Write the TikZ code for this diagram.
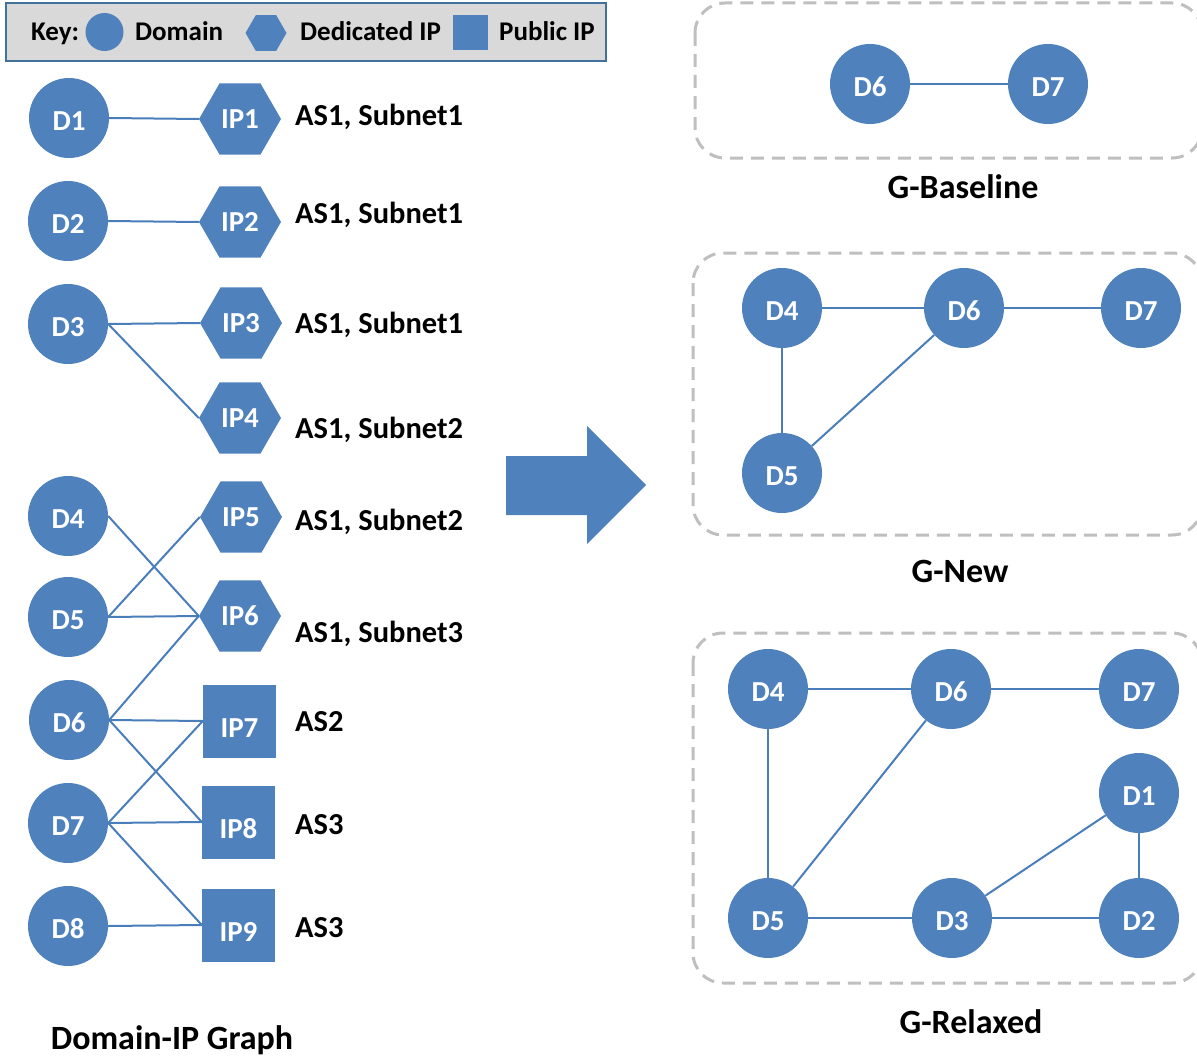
\documentclass[tikz,border=0pt]{standalone}
\usepackage{fontspec}
\setmainfont{Carlito}
\usetikzlibrary{shapes.geometric}
\definecolor{nodeblue}{HTML}{4F81BD}
\definecolor{edgeblue}{HTML}{4A7EBB}
\definecolor{boxgray}{HTML}{BFBFBF}
\definecolor{keyfill}{HTML}{D9D9D9}
\definecolor{keyborder}{HTML}{41719C}
\begin{document}
\begin{tikzpicture}[x=1pt,y=-1pt,
  nodefont/.style={font=\fontsize{29}{31}\selectfont\bfseries},
  dom/.style={circle, fill=nodeblue, minimum size=80pt, inner sep=0pt, text=white, nodefont, text height=25pt, text depth=0pt},
  dip/.style={regular polygon, regular polygon sides=6, fill=nodeblue, minimum size=82pt, inner sep=0pt, text=white, nodefont, text height=18.5pt, text depth=0pt},
  pip/.style={rectangle, fill=nodeblue, minimum size=73pt, inner sep=0pt, text=white, nodefont, text height=32pt, text depth=0pt},
  conn/.style={draw=edgeblue, line width=2pt},
  lab/.style={anchor=base west, font=\fontsize{30.5}{32}\selectfont\bfseries, inner sep=0pt},
  keylab/.style={anchor=base west, font=\fontsize{27}{29}\selectfont\bfseries, inner sep=0pt},
  ttl/.style={anchor=base, font=\fontsize{34}{36}\selectfont\bfseries, inner sep=0pt},
  group/.style={draw=boxgray, dash pattern=on 13pt off 8pt, line width=3pt, rounded corners=30pt}]
\useasboundingbox (0,0) rectangle (1197,1057);

% key
\draw[fill=keyfill, draw=keyborder, line width=1.5pt] (6,3) rectangle (606,61);
\node[keylab] (kk) at (31,41) {Key:};
\node[circle, fill=nodeblue, minimum size=38pt, inner sep=0pt] (kc) at (104.5,32) {};
\node[keylab] (kd) at (135,41) {Domain};
\node[regular polygon, regular polygon sides=6, fill=nodeblue, minimum size=41pt, inner sep=0pt] (kh) at (266,33) {};
\node[keylab] (ki) at (300,41) {Dedicated IP};
\node[rectangle, fill=nodeblue, minimum size=35pt, inner sep=0pt] (ks) at (470,32.5) {};
\node[keylab] (kp) at (499,41) {Public IP};

% domain-IP graph
\node[dom] (D1) at (69,118) {D1};
\node[dom] (D2) at (68,221) {D2};
\node[dom] (D3) at (68,324) {D3};
\node[dom] (D4) at (68,516) {D4};
\node[dom] (D5) at (68,617) {D5};
\node[dom] (D6) at (69,720) {D6};
\node[dom] (D7) at (68,823) {D7};
\node[dom] (D8) at (68,926) {D8};

\node[dip] (IP1) at (240,119) {IP1};
\node[dip] (IP2) at (240,222) {IP2};
\node[dip] (IP3) at (241,323) {IP3};
\node[dip] (IP4) at (240,418) {IP4};
\node[dip] (IP5) at (241,517) {IP5};
\node[dip] (IP6) at (240,616) {IP6};
\node[pip] (IP7) at (239.5,721) {IP7};
\node[pip] (IP8) at (238.5,822) {IP8};
\node[pip] (IP9) at (238.5,925) {IP9};

\draw[conn] (D1.east) -- (IP1.west);
\draw[conn] (D2.east) -- (IP2.west);
\draw[conn] (D3.east) -- (IP3.west);
\draw[conn] (D3.east) -- (IP4.west);
\draw[conn] (D4.east) -- (IP6.west);
\draw[conn] (D5.east) -- (IP5.west);
\draw[conn] (D5.east) -- (IP6.west);
\draw[conn] (D6.east) -- (IP6.west);
\draw[conn] (D6.east) -- (IP7.west);
\draw[conn] (D6.east) -- (IP8.west);
\draw[conn] (D7.east) -- (IP7.west);
\draw[conn] (D7.east) -- (IP8.west);
\draw[conn] (D7.east) -- (IP9.west);
\draw[conn] (D8.east) -- (IP9.west);

\node[lab] (L1) at (295,125) {AS1, Subnet1};
\node[lab] (L2) at (295,223) {AS1, Subnet1};
\node[lab] (L3) at (295,333) {AS1, Subnet1};
\node[lab] (L4) at (295,438) {AS1, Subnet2};
\node[lab] (L5) at (295,530) {AS1, Subnet2};
\node[lab] (L6) at (295,642) {AS1, Subnet3};
\node[lab] (L7) at (295,731) {AS2};
\node[lab] (L8) at (295,834) {AS3};
\node[lab] (L9) at (295,937) {AS3};

\node[ttl] (T0) at (172,1049) {Domain-IP Graph};

% arrow
\fill[nodeblue] (506,456) -- (587,456) -- (587,426) -- (646,485) -- (587,544) -- (587,515) -- (506,515) -- cycle;

% G-Baseline
\draw[group] (695,3) rectangle (1202,158);
\node[dom] (B6) at (870,84) {D6};
\node[dom] (B7) at (1048,84) {D7};
\draw[conn] (B6) -- (B7);
\node[ttl] (T1) at (963,198) {G-Baseline};

% G-New
\draw[group] (693,253) rectangle (1202,535);
\node[dom] (N4) at (782,308) {D4};
\node[dom] (N6) at (964,308) {D6};
\node[dom] (N7) at (1141,308) {D7};
\node[dom] (N5) at (782,473) {D5};
\draw[conn] (N4) -- (N6);
\draw[conn] (N6) -- (N7);
\draw[conn] (N4) -- (N5);
\draw[conn] (N5) -- (N6);
\node[ttl] (T2) at (960,582) {G-New};

% G-Relaxed
\draw[group] (693,633) rectangle (1202,983);
\node[dom] (R4) at (768,689) {D4};
\node[dom] (R6) at (951,689) {D6};
\node[dom] (R7) at (1139,689) {D7};
\node[dom] (R1) at (1139,793) {D1};
\node[dom] (R5) at (768,918) {D5};
\node[dom] (R3) at (952,918) {D3};
\node[dom] (R2) at (1139,918) {D2};
\draw[conn] (R4) -- (R6);
\draw[conn] (R6) -- (R7);
\draw[conn] (R4) -- (R5);
\draw[conn] (R5) -- (R6);
\draw[conn] (R5) -- (R3);
\draw[conn] (R3) -- (R2);
\draw[conn] (R3) -- (R1);
\draw[conn] (R1) -- (R2);
\node[ttl] (T3) at (971,1033) {G-Relaxed};
\end{tikzpicture}
\end{document}
